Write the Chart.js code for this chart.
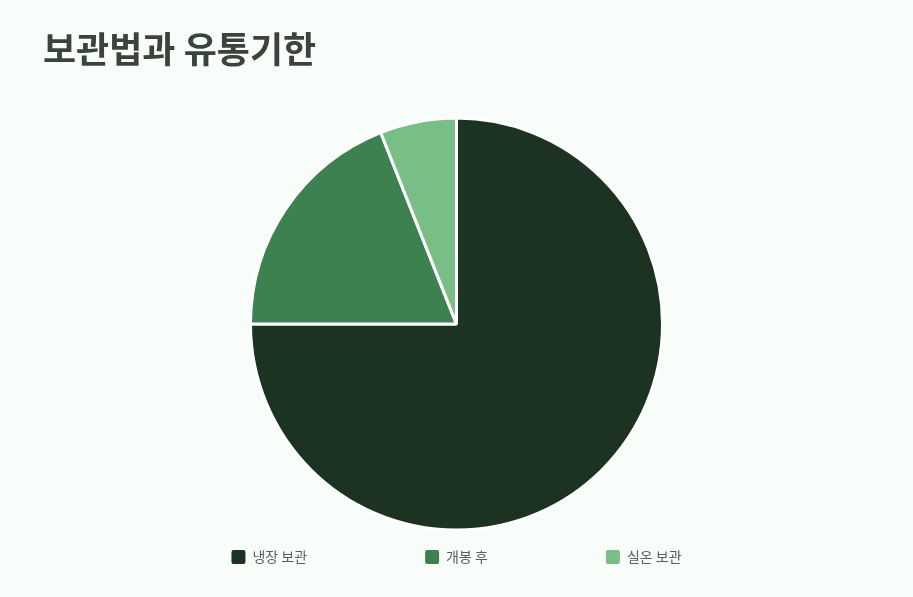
<!DOCTYPE html>
<html><head><meta charset="utf-8">
<script src="https://cdn.jsdelivr.net/npm/chart.js@4"></script>
<style>
html,body{margin:0;padding:0;background:#f8fdf9;}
#wrap{position:relative;width:913px;height:597px;}
</style></head>
<body><div id="wrap"><canvas id="c" width="913" height="597"></canvas></div>
<script>
const title = '보관법과 유통기한';
const categories = ['냉장 보관', '개봉 후', '실온 보관'];
const values = [75, 19, 6];
const colors = ['#1b3320', '#3e8150', '#7abe87'];

Chart.defaults.font.family = "'Noto Sans CJK KR', 'Noto Sans', sans-serif";
const gap = '\u2003'.repeat(8);
new Chart(document.getElementById('c'), {
  type: 'pie',
  data: { labels: categories, datasets: [{ data: values, backgroundColor: colors, borderColor: '#ffffff', borderWidth: 3, radius: 206 }] },
  options: {
    responsive: false,
    animation: false,
    layout: { padding: { left: 43, right: 43, top: 0, bottom: 23 } },
    plugins: {
      title: { display: true, text: title, align: 'start', color: '#3a443d',
        font: { size: 36, weight: 'bold' }, padding: { top: 28, bottom: 33 } },
      legend: { position: 'bottom', labels: { boxWidth: 14, boxHeight: 14, padding: 6, color: '#5a5f5b',
        font: { size: 14 }, useBorderRadius: true, borderRadius: 2,
        generateLabels: (chart) => {
          const items = Chart.overrides.pie.plugins.legend.labels.generateLabels(chart);
          items.forEach((it, i) => { it.lineWidth = 0; if (i < items.length - 1) it.text = it.text + gap; });
          return items;
        } } },
      tooltip: { enabled: false }
    }
  }
});
</script></body></html>
